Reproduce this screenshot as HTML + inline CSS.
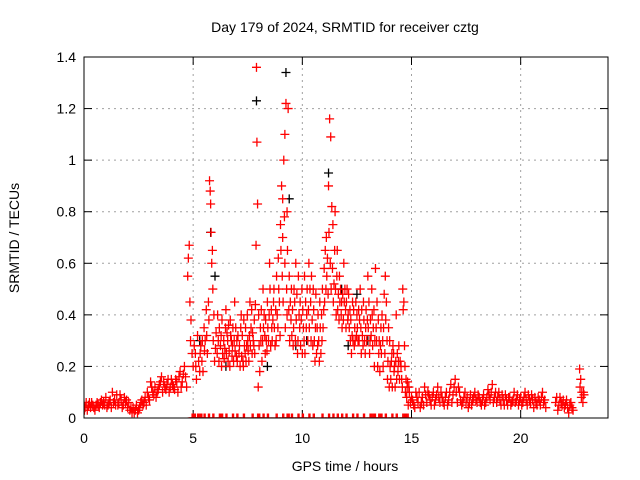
<!DOCTYPE html>
<html><head><meta charset="utf-8"><style>
body{margin:0;background:#fff;}
svg{display:block;font-family:"Liberation Sans",Arial,sans-serif;}
</style></head><body>
<svg id="chart" width="640" height="480" viewBox="0 0 640 480" xmlns="http://www.w3.org/2000/svg">
<rect width="640" height="480" fill="#fff"/>
<text x="345" y="32" font-size="14" text-anchor="middle">Day 179 of 2024, SRMTID for receiver cztg</text>
<text x="345" y="471" font-size="14" text-anchor="middle">GPS time / hours</text>
<text transform="translate(19,238) rotate(-90)" font-size="14" text-anchor="middle">SRMTID / TECUs</text>
<defs><clipPath id="pc"><rect x="84" y="57" width="524" height="361"/></clipPath></defs>
<g id="grid"></g>
<g id="axes"></g>
<g id="marks" clip-path="url(#pc)"></g>
<rect x="84" y="57" width="524" height="361" fill="none" stroke="#000" stroke-width="1"/>
</svg>
<script>
const xTicks=[0,5,10,15,20];
const yTicks=[0,0.2,0.4,0.6,0.8,1,1.2,1.4];
const yTickLabels=["0","0.2","0.4","0.6","0.8","1","1.2","1.4"];
const redPoints=[
[0,0.05],[0.05,0.04],[0.1,0.06],[0.15,0.03],[0.2,0.05],[0.3,0.04],[0.35,0.06],[0.4,0.05],[0.5,0.03],[0.55,0.05],[0.6,0.06],[0.7,0.04],[0.8,0.07],[0.85,0.05],[0.9,0.06],[1.0,0.08],[1.05,0.04],[1.1,0.05],[1.2,0.07],[1.3,0.1],[1.35,0.06],[1.4,0.07],[1.5,0.09],[1.55,0.05],[1.6,0.06],[1.7,0.07],[1.8,0.05],[1.85,0.08],[1.9,0.06],[2.0,0.04],
[2.1,0.03],[2.2,0.02],[2.25,0.04],[2.3,0.02],[2.4,0.05],[2.5,0.03],[2.6,0.06],[2.7,0.05],[2.8,0.08],[2.9,0.1],[3.0,0.07],[3.05,0.14],[3.1,0.12],[3.2,0.09],[3.3,0.08],[3.4,0.11],[3.5,0.14],[3.55,0.16],[3.6,0.1],[3.7,0.12],[3.8,0.13],[3.9,0.1],[4.0,0.15],
[4.1,0.12],[4.2,0.15],[4.3,0.1],[4.4,0.18],[4.5,0.14],[4.6,0.2],[4.65,0.16],[4.75,0.55],[4.78,0.62],[4.82,0.67],[4.85,0.45],[4.88,0.3],[4.9,0.38],[4.95,0.25],[5.0,0.2],
[5.1,0.25],[5.15,0.15],[5.2,0.32],[5.3,0.18],[5.35,0.28],[5.4,0.22],[5.5,0.35],[5.55,0.3],[5.6,0.42],[5.7,0.45],[5.75,0.92],[5.78,0.88],[5.82,0.72],[5.85,0.6],[5.9,0.5],[5.95,0.4],[5.8,0.83],[5.88,0.65],
[6.1,0.25],[6.15,0.3],[6.2,0.35],[6.3,0.2],[6.35,0.25],[6.4,0.3],[6.5,0.42],[6.55,0.33],[6.6,0.22],[6.7,0.38],[6.75,0.3],[6.8,0.28],[6.9,0.45],[6.95,0.35],[7.0,0.3],
[7.1,0.25],[7.15,0.2],[7.2,0.4],[7.3,0.2],[7.35,0.28],[7.4,0.35],[7.5,0.3],[7.55,0.22],[7.6,0.45],[7.7,0.25],[7.75,0.3],[7.8,0.38],[7.9,1.36],[7.92,1.07],[7.95,0.83],[7.88,0.67],[8.0,0.4],[7.98,0.12],[8.05,0.18],
[8.1,0.3],[8.2,0.5],[8.25,0.4],[8.3,0.25],[8.4,0.45],[8.5,0.6],[8.55,0.28],[8.6,0.35],[8.7,0.5],[8.8,0.3],[8.85,0.4],[8.9,0.62],[8.95,0.45],
[9.0,0.75],[9.05,0.9],[9.1,0.85],[9.15,1.0],[9.2,1.1],[9.25,1.22],[9.3,0.8],[9.35,1.2],[9.1,0.7],[9.2,0.6],[9.3,0.4],[9.4,0.55],
[9.5,0.5],[9.6,0.35],[9.65,0.45],[9.7,0.6],[9.8,0.3],[9.85,0.4],[9.9,0.45],[10.0,0.25],[10.05,0.35],[10.1,0.55],[10.2,0.4],[10.3,0.6],[10.35,0.5],[10.4,0.3],[10.5,0.5],[10.6,0.35],[10.65,0.25],[10.7,0.28],[10.8,0.45],[10.9,0.3],[11.0,0.58],
[11.1,0.7],[11.2,0.9],[11.25,1.16],[11.3,1.09],[11.35,0.82],[11.4,0.75],[11.5,0.8],[11.6,0.65],[11.7,0.55],[11.15,0.62],
[11.8,0.45],[11.9,0.6],[12.0,0.35],[12.05,0.5],[12.1,0.4],[12.2,0.3],[12.3,0.45],[12.4,0.35],[12.5,0.4],
[12.6,0.3],[12.65,0.5],[12.7,0.25],[12.8,0.45],[12.9,0.35],[13.0,0.55],[13.1,0.3],[13.2,0.4],[13.3,0.2],[13.35,0.58],[13.4,0.3],[13.5,0.25],
[13.6,0.35],[13.7,0.2],[13.8,0.55],[13.85,0.45],[13.9,0.15],[14.0,0.3],[14.1,0.25],[14.2,0.18],[14.3,0.4],[14.4,0.22],[14.45,0.15],
[14.6,0.5],[14.65,0.45],[14.7,0.2],[14.75,0.15],[14.8,0.12],[14.9,0.1],
[15.0,0.08],[15.1,0.05],[15.2,0.1],[15.3,0.06],[15.4,0.04],[15.5,0.08],[15.6,0.12],[15.7,0.06],[15.8,0.09],[15.9,0.05],[16.0,0.1],[16.1,0.07],[16.2,0.12],[16.3,0.06],[16.4,0.08],[16.5,0.05],[16.6,0.1],[16.7,0.07],[16.8,0.13],[16.9,0.09],[17.0,0.15],[17.1,0.06],[17.2,0.1],[17.3,0.05],[17.4,0.08],[17.5,0.06],[17.6,0.04],[17.7,0.09],[17.8,0.07],[17.9,0.1],[18.0,0.06],[18.1,0.08],[18.2,0.05],[18.3,0.09],[18.4,0.06],[18.5,0.11],[18.6,0.07],[18.7,0.13],[18.8,0.08],[18.9,0.06],[19.0,0.1],[19.1,0.05],[19.2,0.07],[19.3,0.09],[19.4,0.05],[19.5,0.08],[19.6,0.06],[19.7,0.1],[19.8,0.07],[19.9,0.05],[20.0,0.08],[20.1,0.06],[20.2,0.1],[20.3,0.05],[20.4,0.07],[20.5,0.09],[20.6,0.04],[20.7,0.06],[20.8,0.08],[20.9,0.05],[21.0,0.1],[21.1,0.07],
[21.6,0.06],[21.7,0.03],[21.8,0.08],[21.9,0.05],[22.0,0.04],[22.1,0.07],[22.2,0.02],[22.3,0.06],[22.4,0.03],
[22.7,0.19],[22.75,0.15],[22.8,0.1],[22.85,0.06],[22.9,0.09]
];
const redPointsExtra=[
[0.02,0.03],[0.25,0.06],[0.45,0.04],[0.65,0.05],[0.75,0.06],[0.95,0.05],[1.15,0.06],[1.25,0.04],[1.45,0.05],[1.65,0.09],[1.75,0.04],[1.95,0.07],[2.05,0.06],[2.15,0.04],[2.35,0.03],[2.45,0.02],[2.55,0.04],[2.65,0.07],[2.75,0.06],[2.85,0.05],[2.95,0.08],[3.15,0.1],[3.25,0.12],[3.35,0.1],[3.45,0.13],[3.65,0.14],[3.75,0.11],[3.85,0.15],[3.95,0.12],[4.05,0.13],[4.15,0.11],[4.25,0.14],[4.35,0.16],[4.45,0.12],[4.55,0.17],[4.7,0.12],
[5.05,0.28],[5.12,0.2],[5.25,0.22],[5.32,0.25],[5.42,0.3],[5.45,0.18],[5.52,0.26],[5.62,0.32],[5.65,0.25],[5.72,0.38],[5.92,0.3],[5.98,0.22],[6.02,0.27],[6.05,0.33],[6.12,0.4],[6.18,0.22],[6.25,0.28],[6.28,0.32],[6.32,0.38],[6.42,0.23],[6.45,0.27],[6.48,0.35],[6.52,0.25],[6.58,0.3],[6.62,0.36],[6.65,0.26],[6.68,0.2],[6.72,0.32],[6.78,0.24],[6.82,0.35],[6.85,0.22],[6.88,0.3],[6.92,0.26],[6.98,0.24],
[7.02,0.22],[7.05,0.32],[7.12,0.28],[7.18,0.35],[7.22,0.24],[7.25,0.32],[7.28,0.22],[7.32,0.38],[7.38,0.25],[7.42,0.22],[7.45,0.28],[7.48,0.4],[7.52,0.26],[7.58,0.32],[7.62,0.28],[7.65,0.35],[7.68,0.42],[7.72,0.33],[7.78,0.28],[7.82,0.25],[7.85,0.44],
[8.02,0.28],[8.08,0.35],[8.12,0.42],[8.15,0.22],[8.18,0.3],[8.22,0.35],[8.28,0.32],[8.32,0.38],[8.35,0.3],[8.38,0.26],[8.42,0.35],[8.45,0.3],[8.48,0.4],[8.52,0.5],[8.58,0.42],[8.62,0.3],[8.65,0.38],[8.68,0.45],[8.72,0.35],[8.75,0.28],[8.78,0.42],[8.82,0.55],[8.88,0.35],[8.92,0.5],[8.98,0.32],
[9.02,0.65],[9.08,0.55],[9.12,0.45],[9.18,0.78],[9.22,0.35],[9.28,0.5],[9.32,0.65],[9.38,0.42],[9.42,0.3],[9.45,0.45],[9.48,0.38],[9.52,0.32],[9.55,0.42],[9.58,0.28],[9.62,0.5],[9.68,0.3],[9.72,0.38],[9.75,0.48],[9.78,0.25],[9.82,0.55],[9.88,0.35],[9.92,0.28],[9.95,0.38],[9.98,0.5],
[10.02,0.42],[10.08,0.3],[10.12,0.25],[10.15,0.45],[10.18,0.35],[10.22,0.5],[10.25,0.3],[10.28,0.42],[10.32,0.35],[10.38,0.45],[10.42,0.55],[10.45,0.38],[10.48,0.28],[10.52,0.42],[10.55,0.3],[10.58,0.22],[10.62,0.48],[10.68,0.35],[10.72,0.4],[10.75,0.3],[10.78,0.22],[10.82,0.35],[10.85,0.25],[10.88,0.4],[10.92,0.5],[10.95,0.35],[10.98,0.42],
[11.02,0.45],[11.05,0.65],[11.08,0.5],[11.12,0.55],[11.18,0.48],[11.22,0.72],[11.28,0.6],[11.32,0.5],[11.38,0.58],[11.42,0.45],[11.45,0.52],[11.48,0.65],[11.52,0.5],[11.55,0.4],[11.58,0.55],[11.62,0.42],[11.65,0.48],[11.68,0.38],[11.72,0.45],[11.75,0.5],[11.78,0.4],[11.82,0.35],[11.85,0.48],[11.88,0.38],[11.92,0.45],[11.95,0.5],[11.98,0.42],
[12.02,0.45],[12.08,0.38],[12.12,0.48],[12.15,0.35],[12.18,0.42],[12.22,0.38],[12.25,0.25],[12.28,0.32],[12.32,0.3],[12.35,0.42],[12.38,0.28],[12.42,0.3],[12.45,0.45],[12.48,0.32],[12.52,0.35],[12.55,0.3],[12.58,0.42],[12.62,0.38],[12.68,0.35],[12.72,0.42],[12.75,0.32],[12.78,0.28],[12.82,0.38],[12.85,0.3],[12.88,0.25],[12.92,0.42],[12.95,0.3],[12.98,0.38],
[13.02,0.35],[13.05,0.45],[13.08,0.25],[13.12,0.38],[13.15,0.32],[13.18,0.5],[13.22,0.28],[13.25,0.35],[13.28,0.42],[13.32,0.3],[13.38,0.35],[13.42,0.45],[13.45,0.2],[13.48,0.38],[13.52,0.3],[13.55,0.18],[13.58,0.28],[13.62,0.25],[13.65,0.4],[13.68,0.3],[13.72,0.35],[13.75,0.48],[13.78,0.25],[13.82,0.38],[13.88,0.3],[13.92,0.22],[13.95,0.35],[13.98,0.12],
[14.02,0.2],[14.05,0.15],[14.08,0.22],[14.12,0.12],[14.15,0.28],[14.18,0.25],[14.22,0.2],[14.25,0.12],[14.28,0.22],[14.32,0.15],[14.35,0.25],[14.38,0.18],[14.42,0.28],[14.48,0.22],[14.52,0.2],[14.55,0.15],[14.58,0.12],[14.62,0.42],[14.68,0.28],[14.72,0.1],[14.78,0.08],[14.82,0.14],[14.85,0.05],[14.88,0.12],[14.95,0.06],
[15.05,0.07],[15.15,0.04],[15.25,0.08],[15.35,0.1],[15.45,0.06],[15.55,0.05],[15.65,0.09],[15.75,0.1],[15.85,0.07],[15.95,0.08],[16.05,0.05],[16.15,0.09],[16.25,0.08],[16.35,0.1],[16.45,0.06],[16.55,0.08],[16.65,0.05],[16.75,0.1],[16.85,0.06],[16.95,0.12],[17.05,0.1],[17.15,0.12],[17.25,0.07],[17.35,0.06],[17.45,0.1],[17.55,0.08],[17.65,0.06],[17.75,0.05],[17.85,0.08],[17.95,0.07],[18.05,0.09],[18.15,0.06],[18.25,0.07],[18.35,0.05],[18.45,0.08],[18.55,0.09],[18.65,0.1],[18.75,0.06],[18.85,0.1],[18.95,0.08],[19.05,0.07],[19.15,0.09],[19.25,0.05],[19.35,0.07],[19.45,0.08],[19.55,0.05],[19.65,0.07],[19.75,0.06],[19.85,0.09],[19.95,0.07],[20.05,0.05],[20.15,0.08],[20.25,0.07],[20.35,0.09],[20.45,0.06],[20.55,0.07],[20.65,0.08],[20.75,0.05],[20.85,0.07],[20.95,0.08],[21.05,0.06],[21.15,0.04],
[21.65,0.08],[21.75,0.05],[21.85,0.06],[21.95,0.07],[22.05,0.05],[22.15,0.04],[22.25,0.05],[22.35,0.04],[22.72,0.12],[22.78,0.08],[22.88,0.1]
];
const blackPoints=[[7.9,1.23],[9.25,1.34],[9.4,0.85],[5.8,0.72],[6.0,0.55],[11.2,0.95],[12.1,0.28],[8.4,0.2],[6.5,0.2],[10.2,0.3],[12.5,0.48],[5.3,0.3],[13.0,0.3],[9.7,0.28],[11.8,0.5]];
const zeroTimes=[4.95,5.0,5.05,5.2,5.3,5.35,5.5,5.7,5.9,6.2,6.3,6.5,6.8,7.0,7.3,7.7,7.95,8.0,8.2,8.4,8.8,9.1,9.3,9.35,9.5,9.8,10.0,10.3,10.5,10.9,11.2,11.4,11.6,11.8,12.0,12.3,12.5,12.8,13.1,13.2,13.3,13.5,13.6,13.8,14.1,14.3,14.6,14.7,14.8];
const X0=84,X1=608,Y0=418,Y1=57,XMAX=24,YMAX=1.4;
function sx(t){return X0+(X1-X0)*t/XMAX;}
function sy(v){return Y0-(Y0-Y1)*v/YMAX;}
const NS="http://www.w3.org/2000/svg";
const grid=document.getElementById('grid'),axes=document.getElementById('axes'),marks=document.getElementById('marks');
function mk(tag,attrs,parent){const e=document.createElementNS(NS,tag);for(const k in attrs)e.setAttribute(k,attrs[k]);parent.appendChild(e);return e;}
xTicks.forEach(t=>{const x=sx(t);
 if(t>0){const g=mk('line',{x1:x,y1:Y0,x2:x,y2:Y1,stroke:'#a0a0a0','stroke-dasharray':'2,4'},grid);
 
 }
 const a=mk('line',{x1:x,y1:Y0,x2:x,y2:Y0-8,stroke:'#000'},axes);
 
 
 mk('line',{x1:x,y1:Y1,x2:x,y2:Y1+8,stroke:'#000'},axes);
 const l=mk('text',{x:x,y:443,'font-size':14,'text-anchor':'middle'},axes);l.textContent=t;
 
 
});
yTicks.forEach((v,i)=>{const y=sy(v);
 if(v>0&&v<YMAX){const g=mk('line',{x1:X0,y1:y,x2:X1,y2:y,stroke:'#a0a0a0','stroke-dasharray':'2,4'},grid);
 
 }
 const a=mk('line',{x1:X0,y1:y,x2:X0+8,y2:y,stroke:'#000'},axes);
 
 
 mk('line',{x1:X1,y1:y,x2:X1-8,y2:y,stroke:'#000'},axes);
 const l=mk('text',{x:76,y:y+5,'font-size':14,'text-anchor':'end'},axes);l.textContent=yTickLabels[i];
 
 
});
function plus(t,v,color,name){const x=sx(t),y=sy(v);
 const p=mk('path',{d:`M${x-4.5},${y}H${x+4.5}M${x},${y-4.5}V${y+4.5}`,stroke:color,'stroke-width':1.3,fill:'none'},marks);
 
 }
blackPoints.forEach(p=>plus(p[0],p[1],'#000','black-point'));
redPoints.forEach(p=>plus(p[0],p[1],'#ff0000','red-point'));
redPointsExtra.forEach(p=>plus(p[0],p[1],'#ff0000','red-point'));
zeroTimes.forEach(t=>{plus(t,0,'#ff0000','zero-point');plus(t+0.05,0,'#ff0000','zero-point');});
</script>
</body></html>
